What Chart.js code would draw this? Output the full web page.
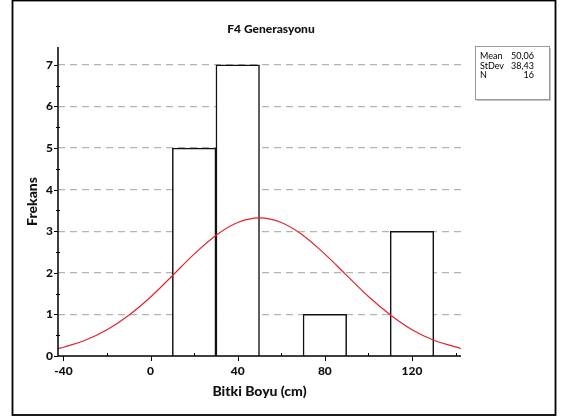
<!DOCTYPE html>
<html>
<head>
<meta charset="utf-8">
<script src="https://cdn.jsdelivr.net/npm/chart.js@4.4.1/dist/chart.umd.min.js"></script>
<style>
  html, body { margin: 0; padding: 0; background: #fff; }
  #wrap { width: 563px; height: 418px; }
</style>
</head>
<body>
<div id="wrap"><canvas id="grafica" width="563" height="418"></canvas></div>
<script>
// Histograma: centros de clase (ancho 20) y frecuencias
const centrosClase = [20, 40, 80, 120];
const frecuencias = [5, 7, 1, 3];

// Curva normal
const curvaX = [-42.5, -40, -30, -20, -10, 0, 10, 20, 30, 40, 50, 60, 70, 80, 90, 100, 110, 120, 130, 140, 142.5];
const curvaY = [0.18, 0.21, 0.38, 0.63, 0.98, 1.42, 1.93, 2.45, 2.90, 3.21, 3.32, 3.21, 2.90, 2.45, 1.94, 1.43, 0.99, 0.63, 0.38, 0.22, 0.18];

// Marcas de los ejes
const ticksX = [-40, 0, 40, 80, 120];
const ticksXMenores = [-20, 20, 60, 100, 140];
const ticksY = [0, 1, 2, 3, 4, 5, 6, 7];

// Cuadro de estadisticas
const estadEtiquetas = ['Mean', 'StDev', 'N'];
const estadValores = ['50,06', '38,43', '16'];

const titulo = 'F4 Generasyonu';
const fuente = "Lato, 'Liberation Sans', sans-serif";

const marcoPlugin = {
    id: 'marco',
    afterDraw(chart) {
        const ctx = chart.ctx;
        const x = chart.scales.x;
        const y = chart.scales.y;
        const area = chart.chartArea;
        ctx.save();
        // marco exterior
        ctx.strokeStyle = '#000';
        ctx.lineWidth = 1.8;
        ctx.strokeRect(12.5, 0.5, 543, 414.5);

        // titulo
        ctx.fillStyle = '#111';
        ctx.font = '900 12px ' + fuente;
        ctx.textAlign = 'center';
        ctx.textBaseline = 'middle';
        ctx.fillText(titulo, 271, 29);

        // ejes
        ctx.strokeStyle = '#000';
        ctx.lineWidth = 1.5;
        ctx.beginPath();
        ctx.moveTo(area.left, area.top);
        ctx.lineTo(area.left, area.bottom);
        ctx.lineTo(area.right, area.bottom);
        ctx.stroke();

        // marcas mayores en X (hacia abajo) y menores (hacia arriba)
        ctx.lineWidth = 1;
        ticksX.forEach(v => {
            const px = Math.round(x.getPixelForValue(v)) + 0.5;
            ctx.beginPath();
            ctx.moveTo(px, area.bottom);
            ctx.lineTo(px, area.bottom + 5);
            ctx.stroke();
        });
        ticksXMenores.forEach(v => {
            const px = Math.round(x.getPixelForValue(v)) + 0.5;
            ctx.beginPath();
            ctx.moveTo(px, area.bottom);
            ctx.lineTo(px, area.bottom - 3);
            ctx.stroke();
        });
        // marcas en Y
        ticksY.forEach(v => {
            const py = Math.round(y.getPixelForValue(v)) + 0.5;
            ctx.beginPath();
            ctx.moveTo(area.left - 4, py);
            ctx.lineTo(area.left, py);
            ctx.stroke();
            if (v < 7) {
                const pm = Math.round(y.getPixelForValue(v + 0.5)) + 0.5;
                ctx.beginPath();
                ctx.moveTo(area.left - 2, pm);
                ctx.lineTo(area.left + 2, pm);
                ctx.stroke();
            }
        });

        // cuadro de estadisticas
        const bx = 475, by = 46, bw = 74, bh = 53;
        ctx.fillStyle = '#c4c4c4';
        ctx.fillRect(bx + 2, by + 2, bw, bh);
        ctx.fillStyle = '#fff';
        ctx.fillRect(bx, by, bw, bh);
        ctx.strokeStyle = '#9a9a9a';
        ctx.lineWidth = 1;
        ctx.strokeRect(bx + 0.5, by + 0.5, bw, bh);
        ctx.fillStyle = '#000';
        ctx.font = '9px ' + fuente;
        ctx.textBaseline = 'middle';
        estadEtiquetas.forEach((et, i) => {
            const ty = by + 10 + i * 9.6;
            ctx.textAlign = 'left';
            ctx.fillText(et, bx + 5, ty);
            ctx.textAlign = 'right';
            ctx.fillText(estadValores[i], bx + 59, ty);
        });
        ctx.restore();
    }
};

const ctx = document.getElementById('grafica').getContext('2d');
new Chart(ctx, {
    data: {
        datasets: [{
            type: 'line',
            label: 'Normal',
            data: curvaX.map((v, i) => ({ x: v, y: curvaY[i] })),
            borderColor: '#e3232d',
            borderWidth: 1.2,
            pointRadius: 0,
            tension: 0.4,
            fill: false,
            order: 0
        }, {
            type: 'bar',
            label: 'Frekans',
            data: centrosClase.map((v, i) => ({ x: v, y: frecuencias[i] })),
            backgroundColor: '#ffffff',
            borderColor: '#111111',
            borderWidth: 1.5,
            barPercentage: 1,
            categoryPercentage: 1,
            order: 1
        }]
    },
    options: {
        responsive: false,
        animation: false,
        layout: {
            padding: { left: 0, right: 102, top: 47, bottom: 0 }
        },
        plugins: {
            legend: { display: false },
            tooltip: { enabled: false },
            title: { display: false }
        },
        scales: {
            x: {
                type: 'linear',
                min: -42.5,
                max: 142.5,
                offset: false,
                afterBuildTicks: (scale) => {
                    scale.ticks = ticksX.concat(ticksXMenores).sort((a, b) => a - b).map(v => ({ value: v }));
                },
                afterFit: (scale) => { scale.height = 62; },
                grid: { display: false, drawTicks: false, offset: false },
                border: { display: false },
                ticks: {
                    autoSkip: false,
                    maxRotation: 0,
                    padding: 8,
                    color: '#111',
                    font: { family: fuente, size: 12, weight: '900' },
                    callback: (v) => ticksX.includes(v) ? String(v) : ''
                },
                title: {
                    display: true,
                    text: 'Bitki Boyu (cm)',
                    color: '#111',
                    font: { family: fuente, size: 14, weight: '900' },
                    padding: { top: 0, bottom: 18.6 }
                }
            },
            y: {
                type: 'linear',
                min: 0,
                max: 7.43,
                afterBuildTicks: (scale) => {
                    scale.ticks = ticksY.map(v => ({ value: v }));
                },
                afterFit: (scale) => { scale.width = 58; },
                grid: {
                    color: '#b4b4b4',
                    lineWidth: (c) => c.tick && c.tick.value === 0 ? 0 : 1.2,
                    drawTicks: false
                },
                border: { display: false, dash: [7, 5] },
                ticks: {
                    padding: 5,
                    color: '#111',
                    font: { family: fuente, size: 12, weight: '900' }
                },
                title: {
                    display: true,
                    text: 'Frekans',
                    color: '#111',
                    font: { family: fuente, size: 14, weight: '900' },
                    padding: { top: 23.6, bottom: 0 }
                }
            }
        }
    },
    plugins: [marcoPlugin]
});
</script>
</body>
</html>
